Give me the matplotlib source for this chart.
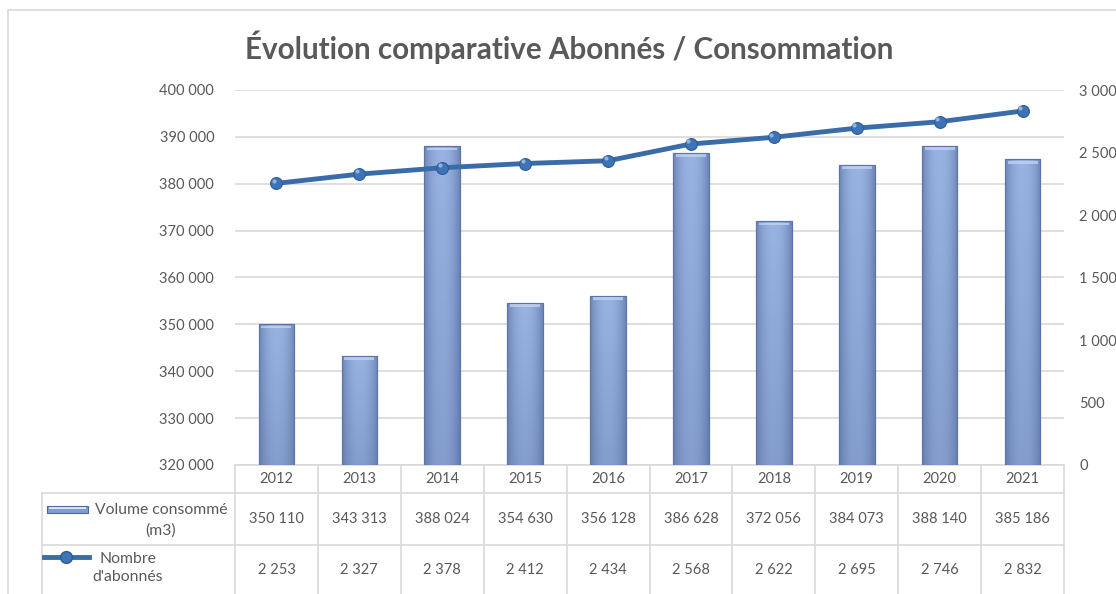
import numpy as np
import matplotlib
matplotlib.use("Agg")
import matplotlib.pyplot as plt
from matplotlib.patches import Rectangle
from matplotlib.lines import Line2D
import matplotlib.transforms as mtrans

years = ["2012", "2013", "2014", "2015", "2016", "2017", "2018", "2019", "2020", "2021"]
volume = [350110, 343313, 388024, 354630, 356128, 386628, 372056, 384073, 388140, 385186]
abonnes = [2253, 2327, 2378, 2412, 2434, 2568, 2622, 2695, 2746, 2832]
volume_labels = ["350 110", "343 313", "388 024", "354 630", "356 128", "386 628", "372 056", "384 073", "388 140", "385 186"]
abonnes_labels = ["2 253", "2 327", "2 378", "2 412", "2 434", "2 568", "2 622", "2 695", "2 746", "2 832"]
left_ticks = [320000, 330000, 340000, 350000, 360000, 370000, 380000, 390000, 400000]
right_ticks = [0, 500, 1000, 1500, 2000, 2500, 3000]
series_names = ["Volume consommé\n(m3)", "Nombre\nd'abonnés"]
title = "Évolution comparative Abonnés / Consommation"

FONT = "Lato"
GRAY = "#595959"
GRID = "#D9D9D9"
LINE_C = "#3A6CA8"

def fmt(v):
    return f"{int(v):,}".replace(",", " ")

W, H = 1116, 594
fig = plt.figure(figsize=(W / 100, H / 100), dpi=100)
fig.patch.set_facecolor("white")

# outer border
fig.add_artist(Rectangle((8 / W, -0.1), 1.2, (H - 10) / H + 0.1, transform=fig.transFigure,
                         fill=False, edgecolor=GRID, lw=1.2))

ax_l, ax_r, ax_t, ax_b = 235, 1064, 90, 465
ax = fig.add_axes([ax_l / W, (H - ax_b) / H, (ax_r - ax_l) / W, (ax_b - ax_t) / H])
ax2 = ax.twinx()

x = np.arange(len(years))
ax.set_xlim(-0.5, len(years) - 0.5)
ax.set_ylim(left_ticks[0], left_ticks[-1])
ax2.set_ylim(right_ticks[0], right_ticks[-1])

# gridlines
ax.set_yticks(left_ticks)
ax.yaxis.grid(True, color=GRID, lw=1.2)
ax.set_axisbelow(True)
for s in ax.spines.values():
    s.set_visible(False)
for s in ax2.spines.values():
    s.set_visible(False)
ax.set_xticks([])
ax.set_yticklabels([fmt(v) for v in left_ticks], fontfamily=FONT, fontsize=10.5, color=GRAY)
ax.tick_params(axis="y", length=0, pad=15)
ax2.set_yticks(right_ticks)
ax2.set_yticklabels([fmt(v) for v in right_ticks], fontfamily=FONT, fontsize=10.5, color=GRAY)
ax2.tick_params(axis="y", length=0, pad=11)

# bars with gradient
bw = 0.43
bars = ax.bar(x, np.array(volume) - left_ticks[0], bottom=left_ticks[0], width=bw,
              color="#7F9DD3", edgecolor="#5D75A6", lw=0.8, zorder=2)
nx, ny = 64, 64
u = np.linspace(-1, 1, nx)
horiz = 1 - 0.55 * np.abs(u) ** 2.2
vert = np.linspace(1.0, 0.74, ny)[:, None]
shade = horiz[None, :] * vert
c_light = np.array([0x98, 0xB2, 0xE2]) / 255
c_dark = np.array([0x4C, 0x63, 0x94]) / 255
img = c_dark[None, None, :] + (c_light - c_dark)[None, None, :] * shade[:, :, None]
for b in bars:
    x0 = b.get_x(); w = b.get_width(); y0 = b.get_y(); h = b.get_height()
    im = ax.imshow(img, extent=[x0, x0 + w, y0, y0 + h], aspect="auto", zorder=2.5,
                   interpolation="bilinear", origin="upper")
    im.set_clip_path(b)
    # top bevel highlight
    cap = 900
    ax.add_patch(Rectangle((x0 + w * 0.08, y0 + h - cap), w * 0.84, cap * 0.6,
                           facecolor="#C9D8F2", edgecolor="none", alpha=0.7, zorder=2.6))
    ax.add_patch(Rectangle((x0, y0), w, h, fill=False, edgecolor="#5D75A6", lw=0.8, zorder=2.7))
ax.set_xlim(-0.5, len(years) - 0.5)

# line
ax2.plot(x, abonnes, color=LINE_C, lw=3.5, marker="o", markersize=8.5,
         markerfacecolor="#3E74B6", markeredgecolor="#2B5A94", markeredgewidth=0.8, zorder=5,
         solid_capstyle="round")
ax2.plot(x - 0.03, np.array(abonnes) + 22, ls="none", marker="o", markersize=3,
         markerfacecolor="#8FB3E3", markeredgecolor="none", zorder=6)

# title
fig.text(569 / W, 1 - 47 / H, title, ha="center", va="center", fontfamily=FONT,
         fontweight="bold", fontsize=21.3, color=GRAY)

# data table
tr = mtrans.blended_transform_factory(ax.transData, ax.transAxes)
axh = ax_b - ax_t
def yfrac(py):
    return (ax_b - py) / axh
y_head = yfrac(493)
y_r1 = yfrac(545)
y_r2 = yfrac(610)
x_left = (42 - ax_l) / (ax_r - ax_l)
tra = ax.transAxes
lkw = dict(color=GRID, lw=1.2, clip_on=False, zorder=1)
# horizontal lines
ax.add_line(Line2D([-0.5, len(years) - 0.5], [0, 0], transform=tr, **lkw))
ax.add_line(Line2D([x_left, 1], [y_head, y_head], transform=tra, **lkw))
ax.add_line(Line2D([x_left, 1], [y_r1, y_r1], transform=tra, **lkw))
ax.add_line(Line2D([x_left, 1], [y_r2, y_r2], transform=tra, **lkw))
# vertical lines
for i in range(len(years) + 1):
    ax.add_line(Line2D([i - 0.5, i - 0.5], [0, y_r2], transform=tr, **lkw))
ax.add_line(Line2D([x_left, x_left], [y_head, y_r2], transform=tra, **lkw))

tkw = dict(ha="center", va="center", fontfamily=FONT, fontsize=10.5, color=GRAY, clip_on=False)
for i in range(len(years)):
    ax.text(x[i], (0 + y_head) / 2, years[i], transform=tr, **tkw)
    ax.text(x[i], (y_head + y_r1) / 2, volume_labels[i], transform=tr, **tkw)
    ax.text(x[i], yfrac(570), abonnes_labels[i], transform=tr, **tkw)

# legend keys in table
def fx(px):
    return (px - ax_l) / (ax_r - ax_l)
ax.add_patch(Rectangle((fx(47), yfrac(513)), fx(88) - fx(47), yfrac(506) - yfrac(513),
                       transform=tra, facecolor="#7F9DD3", edgecolor="#4E6698", lw=0.8, clip_on=False))
ax.add_patch(Rectangle((fx(49), yfrac(508.5)), fx(86) - fx(49), yfrac(506.8) - yfrac(508.5),
                       transform=tra, facecolor="#D4E0F5", edgecolor="none", clip_on=False))
tkw2 = dict(tkw, fontsize=11.3)
ax.text(fx(161), yfrac(520), series_names[0], transform=tra, linespacing=1.55, **tkw2)
ax.add_line(Line2D([fx(44), fx(89)], [yfrac(557), yfrac(557)], transform=tra, color=LINE_C,
                   lw=3.5, clip_on=False))
ax.add_line(Line2D([fx(66)], [yfrac(557)], transform=tra, ls="none", marker="o", markersize=8.5,
                   markerfacecolor="#3E74B6", markeredgecolor="#2B5A94", clip_on=False))
ax.text(fx(128), yfrac(568), series_names[1], transform=tra, linespacing=1.45, **tkw2)

fig.savefig("out.png", dpi=100)
